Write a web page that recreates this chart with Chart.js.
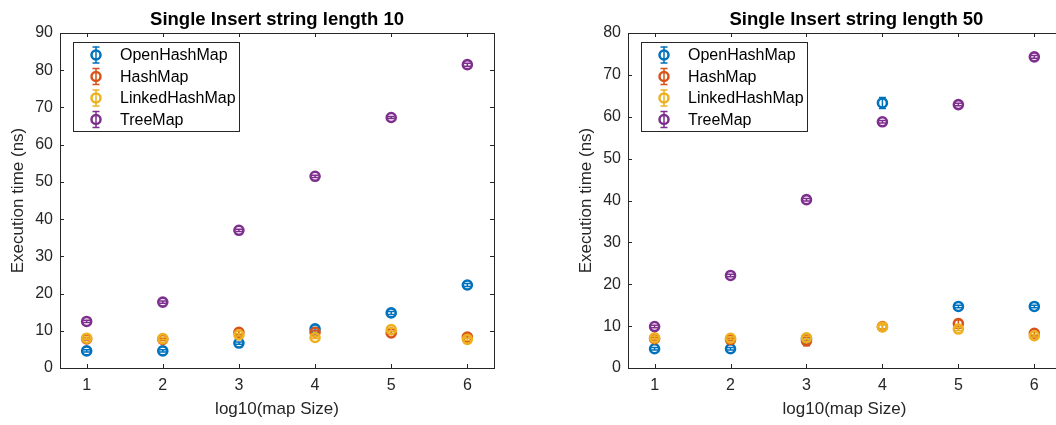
<!DOCTYPE html>
<html>
<head>
<meta charset="utf-8">
<script src="https://cdn.jsdelivr.net/npm/chart.js@4/dist/chart.umd.min.js"></script>
<style>
html, body { margin: 0; padding: 0; background: #fff; overflow: hidden; }
#wrap { position: relative; width: 1056px; height: 425px; overflow: hidden; }
#left { position: absolute; left: 0; top: 0; }
#right { position: absolute; left: 528px; top: 0; }
</style>
</head>
<body>
<div id="wrap">
  <canvas id="left" width="528" height="425"></canvas>
  <canvas id="right" width="540" height="425"></canvas>
</div>
<script>
"use strict";
// x values: log10 of map size
const mapSizes = [1, 2, 3, 4, 5, 6];
const seriesNames = ['OpenHashMap', 'HashMap', 'LinkedHashMap', 'TreeMap'];
const seriesColors = ['#0072BD', '#D95319', '#EDB120', '#7E2F8E'];

// string length 10
const len10Open   = [4.6, 4.6, 6.7, 10.5, 14.8, 22.3];
const len10Hash   = [7.8, 7.7, 9.6, 9.6, 9.4, 8.3];
const len10Linked = [8.0, 7.9, 8.9, 8.2, 10.3, 7.7];
const len10Tree   = [12.5, 17.7, 37.0, 51.5, 67.3, 81.5];
const len10OpenErr   = [0.3, 0.3, 0.3, 0.4, 0.4, 0.4];
const len10HashErr   = [0.3, 0.3, 0.5, 0.4, 0.4, 0.3];
const len10LinkedErr = [0.3, 0.3, 0.3, 0.3, 0.4, 0.3];
const len10TreeErr   = [0.3, 0.3, 0.3, 0.3, 0.3, 0.4];
const len10YTicks = [0, 10, 20, 30, 40, 50, 60, 70, 80, 90];

// string length 50
const len50Open   = [4.6, 4.6, 7.0, 63.3, 14.7, 14.7];
const len50Hash   = [7.0, 6.8, 6.5, 9.9, 10.6, 8.3];
const len50Linked = [7.2, 7.1, 7.2, 9.8, 9.3, 7.7];
const len50Tree   = [9.9, 22.1, 40.2, 58.8, 62.9, 74.3];
const len50OpenErr   = [0.3, 0.3, 0.3, 1.3, 0.3, 0.3];
const len50HashErr   = [0.3, 0.3, 1.2, 0.5, 1.0, 0.4];
const len50LinkedErr = [0.3, 0.3, 0.4, 0.5, 0.4, 0.3];
const len50TreeErr   = [0.3, 0.3, 0.3, 0.3, 0.3, 0.3];
const len50YTicks = [0, 10, 20, 30, 40, 50, 60, 70, 80];

const axisColor = '#262626';
const fontFamily = '"Liberation Sans", Arial, sans-serif';

const matlabLook = {
    id: 'matlabLook',
    afterDatasetDraw(chart, args) {
        const ds = chart.data.datasets[args.index];
        const ys = chart.scales.y;
        const ctx = chart.ctx;
        ctx.save();
        ctx.strokeStyle = ds.borderColor;
        ctx.lineWidth = 1.5;
        args.meta.data.forEach((pt, i) => {
            const v = ds.data[i].y, e = ds.errors[i];
            const t = ys.getPixelForValue(v + e), b = ys.getPixelForValue(v - e);
            ctx.beginPath();
            ctx.moveTo(pt.x, t); ctx.lineTo(pt.x, b);
            ctx.moveTo(pt.x - 3.5, t); ctx.lineTo(pt.x + 3.5, t);
            ctx.moveTo(pt.x - 3.5, b); ctx.lineTo(pt.x + 3.5, b);
            ctx.stroke();
        });
        ctx.restore();
    },
    afterDraw(chart, args, opts) {
        const ctx = chart.ctx;
        const a = chart.chartArea;
        const xs = chart.scales.x, ys = chart.scales.y;
        ctx.save();
        // box + inward ticks
        ctx.strokeStyle = axisColor;
        ctx.lineWidth = 1;
        ctx.strokeRect(Math.round(a.left) + 0.5, Math.round(a.top) + 0.5,
            Math.round(a.right - a.left), Math.round(a.bottom - a.top));
        ctx.beginPath();
        xs.ticks.forEach(t => {
            const x = Math.round(xs.getPixelForValue(t.value)) + 0.5;
            ctx.moveTo(x, a.bottom); ctx.lineTo(x, a.bottom - 4);
            ctx.moveTo(x, a.top); ctx.lineTo(x, a.top + 4);
        });
        ys.ticks.forEach(t => {
            const y = Math.round(ys.getPixelForValue(t.value)) + 0.5;
            ctx.moveTo(a.left, y); ctx.lineTo(a.left + 4, y);
            ctx.moveTo(a.right, y); ctx.lineTo(a.right - 4, y);
        });
        ctx.stroke();

        // title
        ctx.fillStyle = '#000';
        ctx.font = 'bold 18.5px ' + fontFamily;
        ctx.textAlign = 'center';
        ctx.textBaseline = 'alphabetic';
        ctx.fillText(opts.title, (a.left + a.right) / 2 + opts.titleShift, 25);

        // legend box
        const lx = a.left + 13, ly = a.top + 9, lw = 166, lh = 89;
        ctx.fillStyle = '#fff';
        ctx.fillRect(lx, ly, lw, lh);
        ctx.strokeStyle = axisColor;
        ctx.strokeRect(Math.round(lx) + 0.5, Math.round(ly) + 0.5, lw, lh);
        ctx.font = '16px ' + fontFamily;
        ctx.textAlign = 'left';
        ctx.textBaseline = 'middle';
        chart.data.datasets.forEach((ds, i) => {
            const cy = ly + 13 + i * 21.5;
            const cx = lx + 23;
            ctx.strokeStyle = ds.borderColor;
            ctx.lineWidth = 2.5;
            ctx.beginPath();
            ctx.arc(cx, cy, 4.5, 0, Math.PI * 2);
            ctx.stroke();
            ctx.lineWidth = 1.5;
            ctx.beginPath();
            ctx.moveTo(cx, cy - 8); ctx.lineTo(cx, cy + 8);
            ctx.moveTo(cx - 3.5, cy - 8); ctx.lineTo(cx + 3.5, cy - 8);
            ctx.moveTo(cx - 3.5, cy + 8); ctx.lineTo(cx + 3.5, cy + 8);
            ctx.stroke();
            ctx.fillStyle = '#000';
            ctx.fillText(ds.label, lx + 47, cy + 1);
        });
        ctx.restore();
    }
};

function makeChart(canvasId, title, values, errors, yTicks, padLeft, padRight, titleShift) {
    const datasets = values.map((vals, i) => ({
        label: seriesNames[i],
        data: mapSizes.map((x, j) => ({ x: x, y: vals[j] })),
        errors: errors[i],
        borderColor: seriesColors[i],
        backgroundColor: 'rgba(0,0,0,0)',
        pointRadius: 4.5,
        pointBorderWidth: 2.6,
        showLine: false,
        order: values.length - i
    }));
    const tickFont = { family: fontFamily, size: 16 };
    const titleFont = { family: fontFamily, size: 17 };
    return new Chart(document.getElementById(canvasId), {
        type: 'scatter',
        data: { datasets: datasets },
        options: {
            responsive: false,
            animation: false,
            layout: { padding: { left: padLeft, right: padRight, top: 33, bottom: 0 } },
            plugins: {
                legend: { display: false },
                tooltip: { enabled: false },
                matlabLook: { title: title, titleShift: titleShift }
            },
            scales: {
                x: {
                    type: 'linear',
                    min: 0.65,
                    max: 6.35,
                    afterBuildTicks: s => { s.ticks = mapSizes.map(v => ({ value: v })); },
                    afterFit: s => { s.height = 57; },
                    grid: { display: false, drawTicks: false },
                    border: { display: false },
                    ticks: { font: tickFont, color: axisColor, padding: 8 },
                    title: { display: true, text: 'log10(map Size)', font: titleFont, color: axisColor,
                        padding: { top: 0, bottom: 5 } }
                },
                y: {
                    min: 0,
                    max: yTicks[yTicks.length - 1],
                    afterBuildTicks: s => { s.ticks = yTicks.map(v => ({ value: v })); },
                    afterFit: s => { s.width = 60; },
                    grid: { display: false, drawTicks: false },
                    border: { display: false },
                    ticks: { font: tickFont, color: axisColor, padding: 7 },
                    title: { display: true, text: 'Execution time (ns)', font: titleFont, color: axisColor,
                        padding: { top: 8, bottom: 0 } }
                }
            }
        },
        plugins: [matlabLook]
    });
}

makeChart('left', 'Single Insert string length 10',
    [len10Open, len10Hash, len10Linked, len10Tree],
    [len10OpenErr, len10HashErr, len10LinkedErr, len10TreeErr],
    len10YTicks, 0, 34, 0);
makeChart('right', 'Single Insert string length 50',
    [len50Open, len50Hash, len50Linked, len50Tree],
    [len50OpenErr, len50HashErr, len50LinkedErr, len50TreeErr],
    len50YTicks, 40, 6, 12);
</script>
</body>
</html>
